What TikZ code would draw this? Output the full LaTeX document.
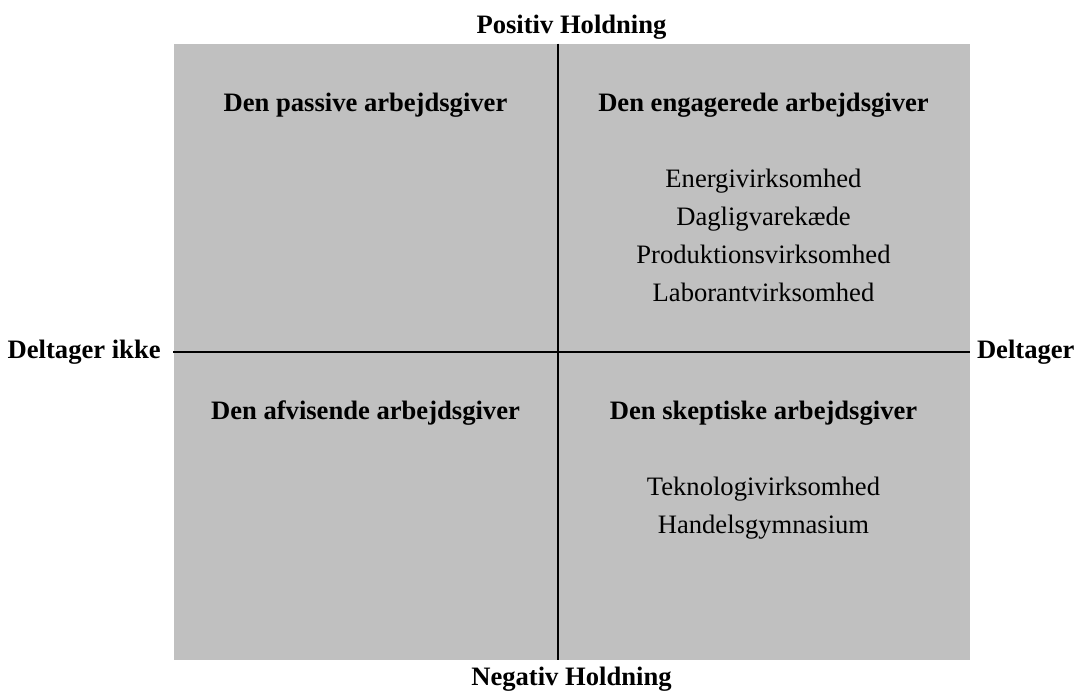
\documentclass[tikz,border=0pt]{standalone}
\usepackage{fontspec}
\setmainfont{Liberation Serif}
\usetikzlibrary{positioning}
\definecolor{feltgraa}{HTML}{C0C0C0}
\tikzset{
	akse/.style={font=\fontsize{13.3}{16}\selectfont\bfseries, inner sep=0pt},
	titel/.style={font=\fontsize{13.3}{16}\selectfont\bfseries, inner sep=0pt, anchor=base},
	punkt/.style={font=\fontsize{13.3}{16}\selectfont, inner sep=0pt, anchor=base}
}

\begin{document}
\begin{tikzpicture}[x=0.5pt, y=-0.5pt]
	\useasboundingbox (0,0) rectangle (1078,692);
	\fill[feltgraa] (174,43.5) rectangle (970,659.5);
	\coordinate (top) at (558,43.5);
	\coordinate (bund) at (558,659.5);
	\coordinate (venstre) at (173,352);
	\coordinate (hoejre) at (970,352);
	\draw[line width=1pt] (top) -- (bund);
	\draw[line width=1pt] (venstre) -- (hoejre);
	\node[akse, anchor=base] (positiv) at (571.5,33.5) {Positiv Holdning};
	\node[akse, anchor=base] (negativ) at (571.5,685) {Negativ Holdning};
	\node[akse, left=6pt of venstre] (ikke) {Deltager ikke};
	\node[akse, right=3.3pt of hoejre] (deltager) {Deltager};
	\node[titel] (passiv) at (365.5,111.7) {Den passive arbejdsgiver};
	\node[titel] (engageret) at (763.5,111.7) {Den engagerede arbejdsgiver};
	\node[titel] (afvisende) at (365.5,419.7) {Den afvisende arbejdsgiver};
	\node[titel] (skeptisk) at (763.5,419.7) {Den skeptiske arbejdsgiver};
	\node[punkt] (energi) at (763.5,187.3) {Energivirksomhed};
	\node[punkt] (dagligvare) at (763.5,225.4) {Dagligvarekæde};
	\node[punkt] (produktion) at (763.5,263.5) {Produktionsvirksomhed};
	\node[punkt] (laborant) at (763.5,301.6) {Laborantvirksomhed};
	\node[punkt] (teknologi) at (763.5,495.2) {Teknologivirksomhed};
	\node[punkt] (handel) at (763.5,533.3) {Handelsgymnasium};
\end{tikzpicture}
\end{document}
